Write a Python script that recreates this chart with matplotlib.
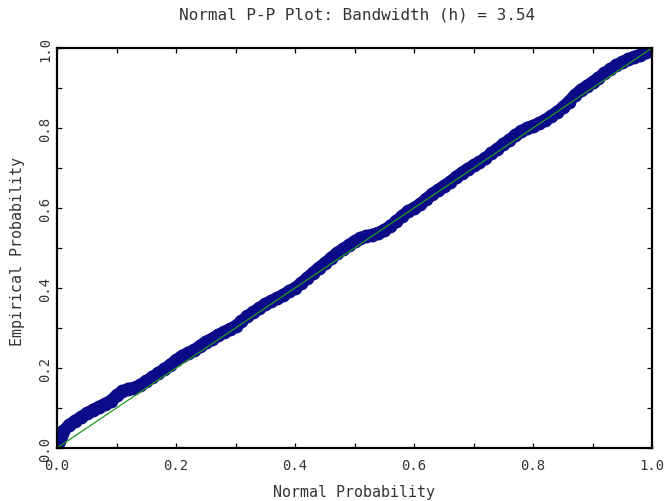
# Normal P-P plot, empirical vs normal probability
import matplotlib.pyplot as plt
from matplotlib.ticker import MultipleLocator

plt.rcParams['font.family'] = ['DejaVu Sans Mono']

# normal probability (x) and empirical probability (y)
normal_p = [0.000, 0.003, 0.006, 0.010, 0.020, 0.030, 0.040, 0.050, 0.060, 0.070,
            0.080, 0.090, 0.100, 0.110, 0.120, 0.130, 0.140, 0.150, 0.160, 0.170,
            0.180, 0.190, 0.200, 0.210, 0.220, 0.230, 0.240, 0.250, 0.260, 0.270,
            0.280, 0.290, 0.300, 0.310, 0.320, 0.330, 0.340, 0.350, 0.360, 0.370,
            0.380, 0.390, 0.400, 0.410, 0.420, 0.430, 0.440, 0.450, 0.460, 0.470,
            0.480, 0.490, 0.500, 0.510, 0.520, 0.530, 0.540, 0.550, 0.560, 0.570,
            0.580, 0.590, 0.600, 0.610, 0.620, 0.630, 0.640, 0.650, 0.660, 0.670,
            0.680, 0.690, 0.700, 0.710, 0.720, 0.730, 0.740, 0.750, 0.760, 0.770,
            0.780, 0.790, 0.800, 0.810, 0.820, 0.830, 0.840, 0.850, 0.860, 0.870,
            0.880, 0.890, 0.900, 0.910, 0.920, 0.930, 0.940, 0.950, 0.960, 0.970,
            0.980, 0.990, 1.000]
empirical_p = [0.002, 0.018, 0.030, 0.042, 0.057, 0.068, 0.077, 0.087, 0.095, 0.103,
               0.110, 0.118, 0.132, 0.142, 0.148, 0.151, 0.158, 0.168, 0.177, 0.187,
               0.197, 0.208, 0.220, 0.230, 0.238, 0.245, 0.255, 0.266, 0.273, 0.282,
               0.290, 0.297, 0.305, 0.317, 0.330, 0.340, 0.350, 0.360, 0.368, 0.375,
               0.383, 0.392, 0.400, 0.412, 0.425, 0.438, 0.451, 0.462, 0.475, 0.487,
               0.497, 0.507, 0.517, 0.525, 0.530, 0.533, 0.538, 0.545, 0.555, 0.567,
               0.580, 0.592, 0.600, 0.610, 0.622, 0.635, 0.645, 0.655, 0.665, 0.677,
               0.688, 0.698, 0.707, 0.715, 0.725, 0.737, 0.748, 0.760, 0.770, 0.782,
               0.792, 0.800, 0.806, 0.812, 0.820, 0.830, 0.840, 0.852, 0.866, 0.882,
               0.895, 0.905, 0.915, 0.926, 0.937, 0.947, 0.957, 0.965, 0.972, 0.978,
               0.983, 0.990, 0.998]
ref_line = [0.0, 1.0]

fig = plt.figure(figsize=(6.66, 5.02), dpi=100)
ax = fig.add_axes([57 / 666, 53 / 502, 595 / 666, 400 / 502])

ax.plot(normal_p, empirical_p, '-o', color='#0b0b8a', lw=8.5, ms=9,
        mec='#0b0b8a', solid_capstyle='round', solid_joinstyle='round')
ax.plot(ref_line, ref_line, color='#1f9a1f', lw=0.9)

ax.set_xlim(0, 1)
ax.set_ylim(0, 1)
ax.xaxis.set_major_locator(MultipleLocator(0.2))
ax.yaxis.set_major_locator(MultipleLocator(0.2))
ax.xaxis.set_minor_locator(MultipleLocator(0.1))
ax.yaxis.set_minor_locator(MultipleLocator(0.1))
ax.xaxis.set_major_formatter(lambda v, p: f'{v:.1f}')
ax.yaxis.set_major_formatter(lambda v, p: f'{v:.1f}')

ax.tick_params(which='both', direction='in', top=True, right=True,
               length=3.5, width=0.9, labelsize=10, labelcolor='#333333')
ax.tick_params(axis='x', pad=7)
ax.tick_params(axis='y', pad=3.5, labelrotation=90)
for lab in ax.get_yticklabels():
    lab.set_va('center')
for s in ax.spines.values():
    s.set_linewidth(1.6)

fig.text(357 / 666, 1 - 15 / 502, 'Normal P-P Plot: Bandwidth (h) = 3.54',
         ha='center', va='center', fontsize=11.5, color='#333333')
fig.text(354 / 666, 1 - 493 / 502, 'Normal Probability',
         ha='center', va='center', fontsize=10.8, color='#333333')
fig.text(18 / 666, 1 - 251 / 502, 'Empirical Probability', rotation=90,
         ha='center', va='center', fontsize=10.8, color='#333333')

fig.savefig('out.png', dpi=100)
